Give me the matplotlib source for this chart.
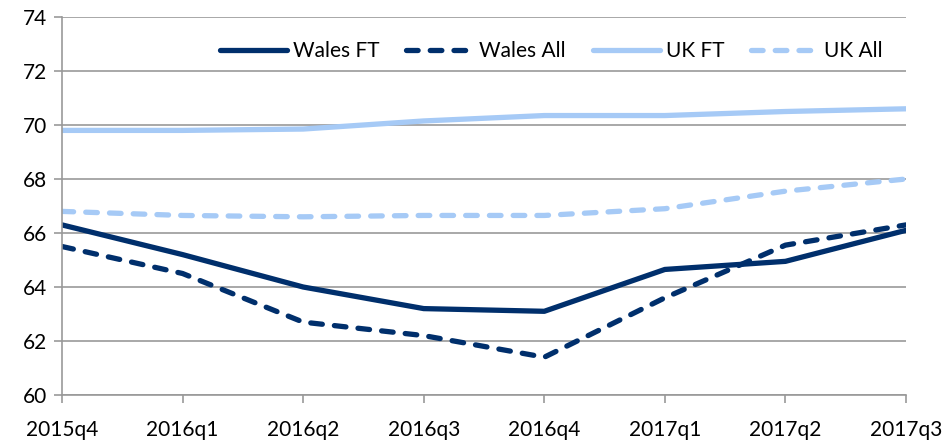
import matplotlib
matplotlib.use("Agg")
import matplotlib.pyplot as plt

plt.rcParams['font.family'] = ['Lato', 'DejaVu Sans']

quarters = ["2015q4", "2016q1", "2016q2", "2016q3", "2016q4", "2017q1", "2017q2", "2017q3"]
wales_ft = [66.3, 65.2, 64.0, 63.2, 63.1, 64.65, 64.95, 66.1]
wales_all = [65.5, 64.5, 62.7, 62.2, 61.4, 63.6, 65.55, 66.3]
uk_ft = [69.8, 69.8, 69.85, 70.15, 70.35, 70.35, 70.5, 70.6]
uk_all = [66.8, 66.65, 66.6, 66.65, 66.65, 66.9, 67.55, 68.0]

navy = '#002f6c'
light = '#a6caf6'

fig = plt.figure(figsize=(9.46, 4.46), dpi=100)
ax = fig.add_axes([62/946, 1 - 395/446, 844/946, 378/446])

x = range(len(quarters))
lw = 3.8
dash = (0, (2.2, 2.3))
ax.plot(x, wales_ft, color=navy, lw=lw, label="Wales FT", solid_capstyle='round')
ax.plot(x, wales_all, color=navy, lw=lw, ls=dash, label="Wales All", dash_capstyle='round')
ax.plot(x, uk_ft, color=light, lw=lw, label="UK FT", solid_capstyle='round')
ax.plot(x, uk_all, color=light, lw=lw, ls=dash, label="UK All", dash_capstyle='round')

ax.set_xlim(0, len(quarters) - 1)
ax.set_ylim(60, 74)
ax.set_yticks(range(60, 75, 2))
ax.set_xticks(list(x))
ax.set_xticklabels(quarters)
ax.grid(axis='y', color='#999999', lw=1.2)
ax.set_axisbelow(True)
for s in ['top', 'right']:
    ax.spines[s].set_visible(False)
for s in ['left', 'bottom']:
    ax.spines[s].set_color('#999999')
    ax.spines[s].set_linewidth(1.2)
ax.tick_params(axis='both', colors='#999999', length=6, width=1.2, labelsize=15, labelcolor='black')
ax.tick_params(axis='x', pad=12)
ax.tick_params(axis='y', pad=5)

ax.legend(loc='upper right', bbox_to_anchor=(0.995, 0.985), ncol=4, frameon=False, fontsize=15,
          handlelength=3.2, columnspacing=1.3, handletextpad=0.3)

fig.savefig("out.png", dpi=100)
